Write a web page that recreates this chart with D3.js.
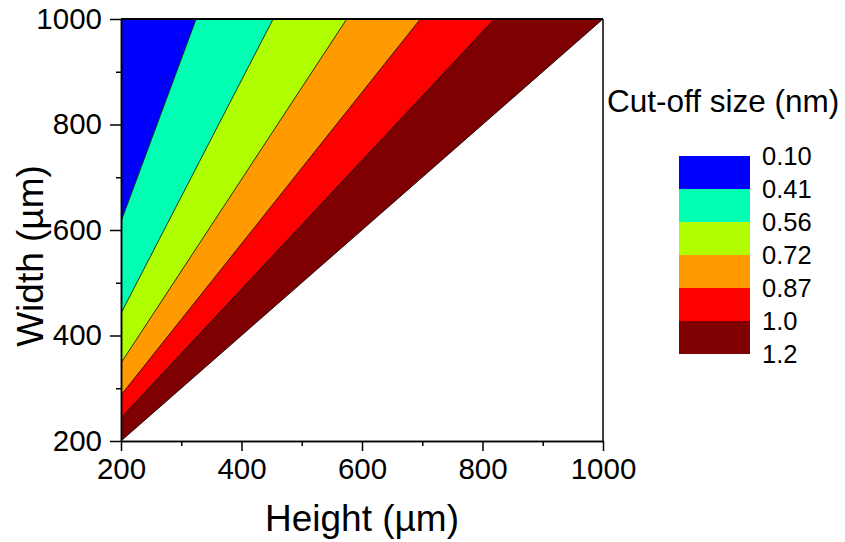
<!DOCTYPE html>
<html>
<head>
<meta charset="utf-8">
<script src="https://cdn.jsdelivr.net/npm/d3@7"></script>
<style>
  body { margin: 0; background: #fff; }
  text { font-family: Arial, "Liberation Sans", sans-serif; fill: #000; }
</style>
</head>
<body>
<script>
// cut-off levels (nm) and the W/H ratio where each level is reached
const levels = [0.10, 0.41, 0.56, 0.72, 0.87, 1.0, 1.2];
const boundaryRatio = [Infinity, 3.08, 2.21, 1.74, 1.435, 1.22, 1.0];
const bandColors = ["#0000ff", "#00ffb3", "#afff00", "#ff9b00", "#ff0000", "#7f0000"];
const majorTicks = [200, 400, 600, 800, 1000];
const minorTicks = [300, 500, 700, 900];

const width = 845, height = 542;
const x = d3.scaleLinear([200, 1000], [121, 603]);
const y = d3.scaleLinear([200, 1000], [441, 19]);

const svg = d3.select("body").append("svg")
  .attr("width", width)
  .attr("height", height);

svg.append("clipPath").attr("id", "plot")
  .append("rect")
  .attr("x", x(200)).attr("y", y(1000))
  .attr("width", x(1000) - x(200)).attr("height", y(200) - y(1000));

const L = 5000; // far point, outside the plot, clipped away
const ray = r => isFinite(r) ? [L, L * r] : [0, L];
const line = d3.line().x(d => x(d[0])).y(d => y(d[1]));

const plot = svg.append("g").attr("clip-path", "url(#plot)");

plot.selectAll("path.band")
  .data(bandColors)
  .join("path")
  .attr("class", "band")
  .attr("fill", d => d)
  .attr("d", (d, i) => line([[0, 0], ray(boundaryRatio[i + 1]), ray(boundaryRatio[i])]) + "Z");

plot.selectAll("path.edge")
  .data(boundaryRatio.filter(isFinite))
  .join("path")
  .attr("class", "edge")
  .attr("fill", "none")
  .attr("stroke", "#000")
  .attr("stroke-width", 0.8)
  .attr("d", r => line([[0, 0], ray(r)]));

// frame
svg.append("line")
  .attr("x1", x(200)).attr("x2", x(1000)).attr("y1", y(1000)).attr("y2", y(1000))
  .attr("stroke", "#000").attr("stroke-width", 2);
svg.append("line")
  .attr("x1", x(1000)).attr("x2", x(1000)).attr("y1", y(1000)).attr("y2", y(200))
  .attr("stroke", "#000").attr("stroke-width", 1.5);

// axes
function styleAxis(g) {
  g.select(".domain").attr("stroke-width", 1.5);
  g.selectAll(".tick line").attr("stroke-width", 1.5);
  g.selectAll("text").attr("font-size", 29.5).attr("font-family", null).attr("fill", "#000");
}
const fmt = d3.format("d");

svg.append("g")
  .attr("transform", `translate(0,${y(200)})`)
  .call(d3.axisBottom(x).tickValues(minorTicks).tickSize(5).tickFormat("").tickSizeOuter(0))
  .call(styleAxis);
svg.append("g")
  .attr("transform", `translate(0,${y(200)})`)
  .call(d3.axisBottom(x).tickValues(majorTicks).tickSize(10).tickPadding(7).tickFormat(fmt).tickSizeOuter(0))
  .call(styleAxis);

svg.append("g")
  .attr("transform", `translate(${x(200)},0)`)
  .call(d3.axisLeft(y).tickValues(minorTicks).tickSize(5).tickFormat("").tickSizeOuter(0))
  .call(styleAxis);
svg.append("g")
  .attr("transform", `translate(${x(200)},0)`)
  .call(d3.axisLeft(y).tickValues(majorTicks).tickSize(11).tickPadding(8).tickFormat(fmt).tickSizeOuter(0))
  .call(styleAxis);

svg.append("text")
  .attr("x", (x(200) + x(1000)) / 2)
  .attr("y", 531)
  .attr("text-anchor", "middle")
  .attr("font-size", 37)
  .text("Height (µm)");

svg.append("text")
  .attr("transform", `translate(43,256) rotate(-90)`)
  .attr("text-anchor", "middle")
  .attr("font-size", 37)
  .text("Width (µm)");

// legend
svg.append("text")
  .attr("x", 607)
  .attr("y", 112)
  .attr("font-size", 31.5)
  .text("Cut-off size (nm)");

const ly = d3.scaleLinear([0, bandColors.length], [156, 354]);
const legend = svg.append("g");
legend.selectAll("rect")
  .data(bandColors)
  .join("rect")
  .attr("x", 679)
  .attr("y", (d, i) => ly(i))
  .attr("width", 71)
  .attr("height", (d, i) => ly(i + 1) - ly(i))
  .attr("fill", d => d);
legend.selectAll("text")
  .data(levels)
  .join("text")
  .attr("x", 762)
  .attr("y", (d, i) => ly(i))
  .attr("dy", "0.36em")
  .attr("font-size", 25.5)
  .text(d => d === 1 ? "1.0" : d === 1.2 ? "1.2" : d.toFixed(2));
</script>
</body>
</html>
